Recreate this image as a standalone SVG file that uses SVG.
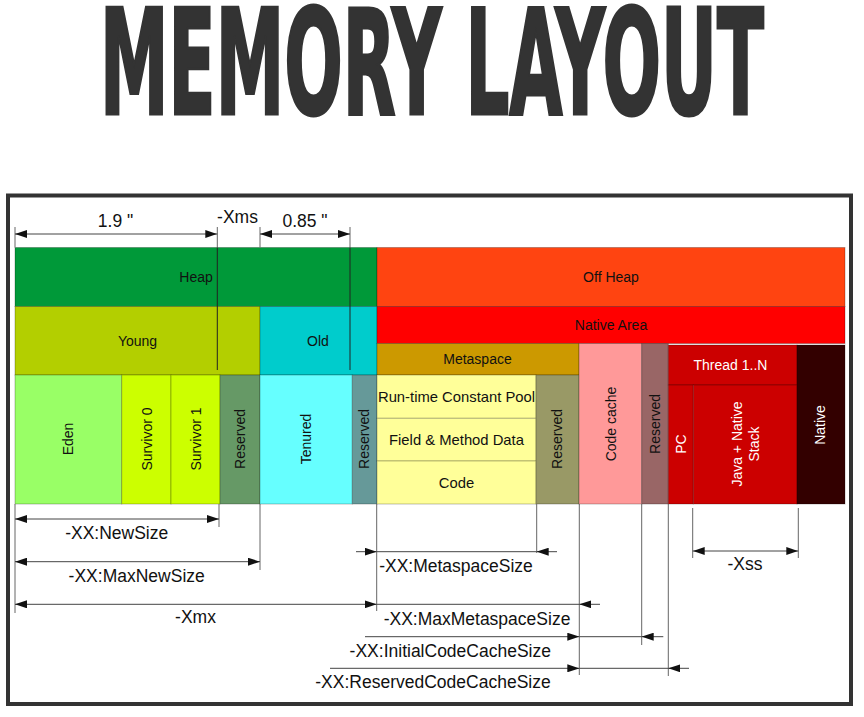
<svg xmlns="http://www.w3.org/2000/svg" width="864" height="717" viewBox="0 0 864 717">
<defs>
<marker id="arr" viewBox="0 0 12 8" refX="12" refY="4" markerWidth="12" markerHeight="8" markerUnits="userSpaceOnUse" orient="auto-start-reverse">
<path d="M0,0 L12,4 L0,8 z" fill="#111"/>
</marker>
<style>
.blk{stroke:#000;stroke-opacity:0.25;stroke-width:1}
.lbl{font-family:"Liberation Sans",Arial,sans-serif;font-size:14px;fill:#111;text-anchor:middle}
.lbl15{font-family:"Liberation Sans",Arial,sans-serif;font-size:14.8px;fill:#111;text-anchor:middle}
.wht{fill:#fff}
.ann{font-family:"Liberation Sans",Arial,sans-serif;font-size:17.5px;fill:#111;text-anchor:middle}
.dim{stroke:#444;stroke-width:1;fill:none}
.dimA{stroke:#444;stroke-width:1;fill:none;marker-start:url(#arr);marker-end:url(#arr)}
.dimE{stroke:#444;stroke-width:1;fill:none;marker-end:url(#arr)}
.ext{stroke:#666;stroke-width:1;fill:none}
.extD{stroke:#222;stroke-width:1;fill:none}
</style>
</defs>
<rect width="864" height="717" fill="#fff"/>
<text x="432" y="114" text-anchor="middle" textLength="664" lengthAdjust="spacingAndGlyphs" font-family="'Liberation Sans Narrow','DejaVu Sans Condensed','Liberation Sans',sans-serif" font-weight="bold" font-size="147" fill="#333" stroke="#333" stroke-width="3" stroke-linejoin="miter">MEMORY LAYOUT</text>
<rect x="8" y="195.5" width="843" height="508.5" fill="#fff" stroke="#333" stroke-width="4"/>

<g id="heap"><rect class="blk" x="15" y="247.5" width="362" height="59" fill="#009939"/><text class="lbl" x="196" y="282">Heap</text></g>
<g id="offheap"><rect class="blk" x="377" y="247.5" width="468" height="59" fill="#ff4411"/><text class="lbl" x="611" y="282">Off Heap</text></g>
<g id="young"><rect class="blk" x="15" y="306.5" width="245" height="68.5" fill="#b3cf00"/><text class="lbl" x="137.5" y="346">Young</text></g>
<g id="old"><rect class="blk" x="260" y="306.5" width="117" height="68.5" fill="#00cccc"/><text class="lbl" x="318" y="346">Old</text></g>
<g id="nativearea"><rect class="blk" x="377" y="306.5" width="468" height="37" fill="#ff0000"/><text class="lbl" x="611" y="330">Native Area</text></g>
<g id="metaspace"><rect class="blk" x="377" y="343.5" width="202" height="31.5" fill="#cc9900"/><text class="lbl" x="477.5" y="364">Metaspace</text></g>
<g id="eden"><rect class="blk" x="15" y="375" width="106.7" height="129" fill="#99ff66"/><text class="lbl" transform="translate(68,439) rotate(-90)" y="5">Eden</text></g>
<g id="survivor0"><rect class="blk" x="121.7" y="375" width="49.3" height="129" fill="#ccff00"/><text class="lbl" transform="translate(146.5,439) rotate(-90)" y="5">Survivor 0</text></g>
<g id="survivor1"><rect class="blk" x="171" y="375" width="49" height="129" fill="#ccff00"/><text class="lbl" transform="translate(195.5,439) rotate(-90)" y="5">Survivor 1</text></g>
<g id="reserved-young"><rect class="blk" x="220" y="375" width="40" height="129" fill="#669966"/><text class="lbl" transform="translate(240,439) rotate(-90)" y="5">Reserved</text></g>
<g id="tenured"><rect class="blk" x="260" y="375" width="92.3" height="129" fill="#66ffff"/><text class="lbl" transform="translate(305.5,439) rotate(-90)" y="5">Tenured</text></g>
<g id="reserved-old"><rect class="blk" x="352.3" y="375" width="24.7" height="129" fill="#669999"/><text class="lbl" transform="translate(364,439) rotate(-90)" y="5">Reserved</text></g>
<g id="rtcp"><rect class="blk" x="377" y="375" width="159" height="43.3" fill="#ffff99"/><text class="lbl15" x="456.5" y="402">Run-time Constant Pool</text></g>
<g id="fmd"><rect class="blk" x="377" y="418.3" width="159" height="42.7" fill="#ffff99"/><text class="lbl15" x="456.5" y="445.3">Field &amp; Method Data</text></g>
<g id="code"><rect class="blk" x="377" y="461" width="159" height="43" fill="#ffff99"/><text class="lbl15" x="456.5" y="488">Code</text></g>
<g id="reserved-meta"><rect class="blk" x="536" y="375" width="43" height="129" fill="#999966"/><text class="lbl" transform="translate(557,439) rotate(-90)" y="5">Reserved</text></g>
<g id="codecache"><rect class="blk" x="579" y="343.5" width="62.7" height="160.5" fill="#ff9999"/><text class="lbl" transform="translate(610.5,424) rotate(-90)" y="5">Code cache</text></g>
<g id="reserved-cc"><rect class="blk" x="641.7" y="343.5" width="26.6" height="160.5" fill="#996666"/><text class="lbl" transform="translate(655,424) rotate(-90)" y="5">Reserved</text></g>
<g id="thread"><rect class="blk" x="668.3" y="345" width="128.7" height="40" fill="#cc0000"/><text class="lbl wht" x="730.5" y="370">Thread 1..N</text></g>
<g id="pc"><rect class="blk" x="668.3" y="385" width="25" height="119" fill="#cc0000"/><text class="lbl wht" transform="translate(681,444) rotate(-90)" y="5">PC</text></g>
<g id="stack"><rect class="blk" x="693.3" y="385" width="103.7" height="119" fill="#cc0000"/><text class="lbl wht" transform="translate(745,444) rotate(-90)"><tspan x="0" y="-3">Java + Native</tspan><tspan x="0" y="13.5">Stack</tspan></text></g>
<g id="native"><rect class="blk" x="797" y="345" width="48" height="159" fill="#330000"/><text class="lbl wht" transform="translate(820,425) rotate(-90)" y="5">Native</text></g>

<g id="connectors">
<path class="ext" d="M15,227V247.5 M260,227V247.5 M217.3,227V247.5 M350,227V247.5"/>
<path class="extD" d="M217.3,247.5V370 M350,247.5V370"/>
<path class="dimA" d="M15,234H217.3"/>
<path class="dimA" d="M260,234H350"/>
<path class="ext" d="M15,504V613 M219,504V527 M260,504V570 M376.7,504V611 M536.7,504V553 M579.3,504V675 M641.7,504V645 M668.3,504V676 M692.7,508V558 M798.3,508V558"/>
<path class="dimA" d="M15,519H219"/>
<path class="dimA" d="M15,561.7H260"/>
<path class="dimA" d="M15,604.3H376.7"/>
<path class="dimE" d="M356,551.7H376.7"/>
<path class="dim" d="M376.7,551.7H536.7"/>
<path class="dimE" d="M557,551.7H536.7"/>
<path class="dim" d="M376.7,604.3H579.3"/>
<path class="dimE" d="M600,604.3H579.3"/>
<path class="dimE" d="M365,636.7H579.3"/>
<path class="dim" d="M579.3,636.7H641.7"/>
<path class="dimE" d="M663.3,636.7H641.7"/>
<path class="dimE" d="M330,668.3H579.3"/>
<path class="dim" d="M579.3,668.3H668.3"/>
<path class="dimE" d="M689,668.3H668.3"/>
<path class="dimA" d="M692.7,551H798.3"/>
</g>

<g id="annotations">
<text class="ann" x="115.5" y="227">1.9 "</text>
<text class="ann" x="237.5" y="222.5">-Xms</text>
<text class="ann" x="305" y="227">0.85 "</text>
<text class="ann" x="116.7" y="539">-XX:NewSize</text>
<text class="ann" x="136.7" y="581.7">-XX:MaxNewSize</text>
<text class="ann" x="195.5" y="623">-Xmx</text>
<text class="ann" x="456" y="571.5">-XX:MetaspaceSize</text>
<text class="ann" x="477" y="625">-XX:MaxMetaspaceSize</text>
<text class="ann" x="450.3" y="656.5">-XX:InitialCodeCacheSize</text>
<text class="ann" x="433" y="688">-XX:ReservedCodeCacheSize</text>
<text class="ann" x="745" y="570">-Xss</text>
</g>
</svg>
